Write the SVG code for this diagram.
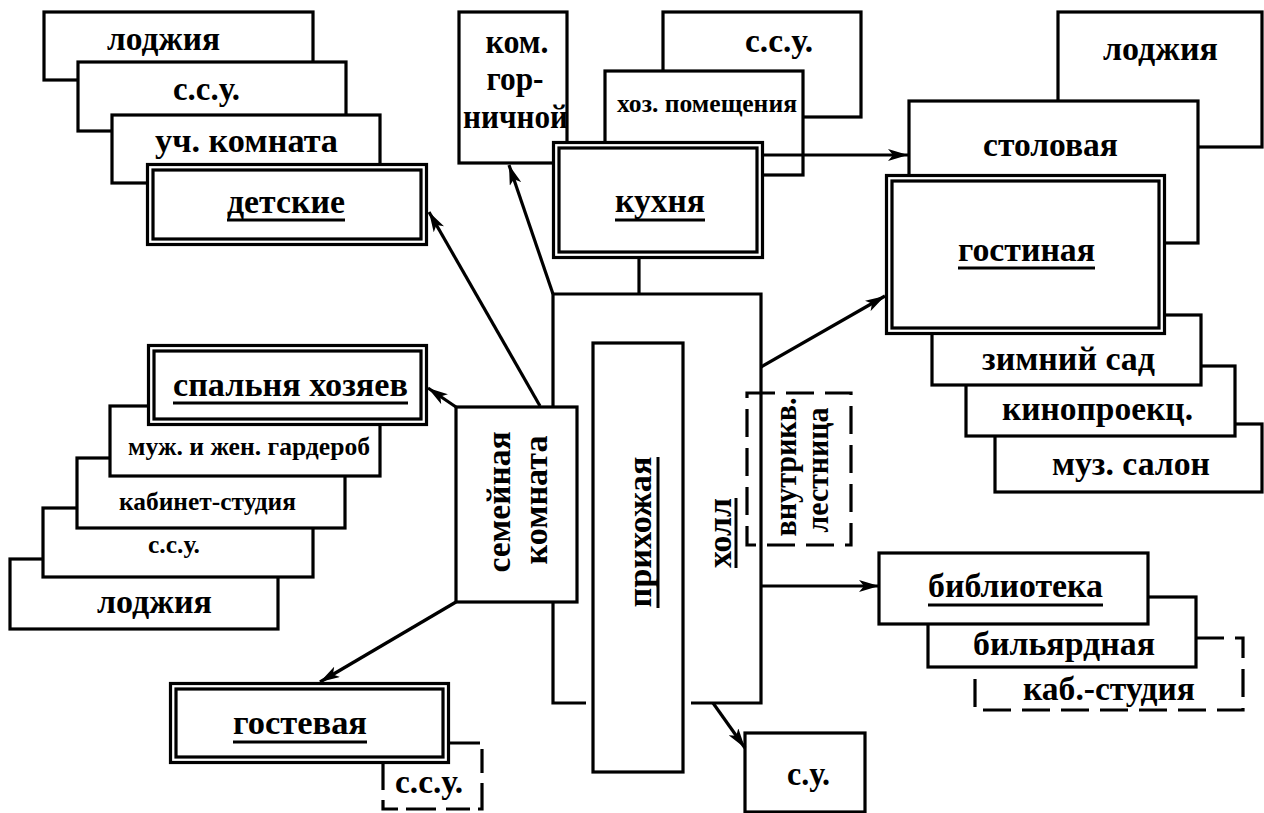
<svg xmlns="http://www.w3.org/2000/svg" width="1264" height="813" viewBox="0 0 1264 813">
<style>
.b{fill:#fff;stroke:#000;stroke-width:3.2}
.f{fill:#fff;stroke:none}
.dl{fill:none;stroke:#000;stroke-width:3.2;stroke-dasharray:28 11}
.u{stroke:#000;stroke-width:3}
.c{fill:none;stroke:#000;stroke-width:3.2}
text{font-family:"Liberation Serif","DejaVu Serif","Times New Roman",serif;font-weight:bold;font-size:34px;fill:#000;text-anchor:middle}
.s{font-size:25px}
</style>
<defs>
<marker id="ah" viewBox="0 0 20 12" refX="20" refY="6" markerWidth="20" markerHeight="12" markerUnits="userSpaceOnUse" orient="auto">
<path d="M0,0 L20,6 L0,12 L5,6 z" fill="#000"/>
</marker>
</defs>
<rect width="1264" height="813" fill="#fff"/>

<!-- top-left group -->
<g id="n-lodzhia-1"><rect class="b" x="44" y="12" width="269" height="68"/><text x="163.5" y="50" textLength="113" lengthAdjust="spacingAndGlyphs">лоджия</text></g>
<g id="n-ssu-1"><rect class="b" x="78" y="62" width="268" height="69"/><text x="206.5" y="100" textLength="67" lengthAdjust="spacingAndGlyphs">с.с.у.</text></g>
<g id="n-uch"><rect class="b" x="112" y="115" width="268" height="68"/><text x="246.5" y="152" textLength="183" lengthAdjust="spacingAndGlyphs">уч. комната</text></g>
<g id="n-detskie"><rect class="b" x="147.5" y="164.5" width="279" height="80"/><rect class="b" x="153" y="170" width="268" height="69"/><text x="286" y="213" textLength="118" lengthAdjust="spacingAndGlyphs">детские</text><line class="u" x1="227" y1="220" x2="345" y2="220"/></g>

<!-- top middle -->
<g id="n-gornichnoi"><rect class="b" x="459" y="12" width="108" height="151"/><text x="517" y="53" textLength="63" lengthAdjust="spacingAndGlyphs">ком.</text><text x="515" y="90" textLength="57" lengthAdjust="spacingAndGlyphs">гор-</text><text x="515.5" y="128" textLength="105" lengthAdjust="spacingAndGlyphs">ничной</text></g>
<g id="n-ssu-top"><rect class="b" x="663" y="12" width="198" height="105"/><text x="779" y="52" textLength="68" lengthAdjust="spacingAndGlyphs">с.с.у.</text></g>
<g id="n-hoz"><rect class="b" x="605" y="71" width="198" height="104"/><text class="s" x="707" y="112" textLength="180" lengthAdjust="spacingAndGlyphs">хоз. помещения</text></g>
<g id="n-kuhnia"><rect class="b" x="553.5" y="142.5" width="209" height="115"/><rect class="b" x="559" y="148" width="198" height="104"/><text x="660" y="212" textLength="90" lengthAdjust="spacingAndGlyphs">кухня</text><line class="u" x1="615" y1="220" x2="705" y2="220"/></g>

<!-- right top -->
<g id="n-lodzhia-r"><rect class="b" x="1058" y="12" width="204" height="135"/><text x="1160.5" y="60" textLength="115" lengthAdjust="spacingAndGlyphs">лоджия</text></g>
<g id="n-stolovaya"><rect class="b" x="909" y="101" width="289" height="142"/><text x="1050.5" y="156" textLength="135" lengthAdjust="spacingAndGlyphs">столовая</text></g>
<g id="n-muz"><rect class="b" x="995" y="424" width="267" height="68"/><text x="1131" y="475" textLength="158" lengthAdjust="spacingAndGlyphs">муз. салон</text></g>
<g id="n-kino"><rect class="b" x="966" y="366" width="269" height="70"/><text x="1097.5" y="420" textLength="191" lengthAdjust="spacingAndGlyphs">кинопроекц.</text></g>
<g id="n-zimniy"><rect class="b" x="932" y="315" width="269" height="70"/><text x="1068.5" y="370" textLength="173" lengthAdjust="spacingAndGlyphs">зимний сад</text></g>
<g id="n-gostinaya"><rect class="b" x="886.5" y="175.5" width="278" height="158"/><rect class="b" x="892" y="181" width="267" height="147"/><text x="1026.5" y="261" textLength="137" lengthAdjust="spacingAndGlyphs">гостиная</text><line class="u" x1="958" y1="268" x2="1095" y2="268"/></g>

<!-- right bottom -->
<g id="n-kab-studia"><rect class="f" x="975" y="638" width="268" height="72"/><path class="dl" d="M1196 638 H1243 V710 H975 V667"/><text x="1109" y="700" textLength="172" lengthAdjust="spacingAndGlyphs">каб.-студия</text></g>
<g id="n-bilyard"><rect class="b" x="928" y="597" width="268" height="70"/><text x="1064" y="655" textLength="182" lengthAdjust="spacingAndGlyphs">бильярдная</text></g>
<g id="n-biblioteka"><rect class="b" x="879" y="553" width="269" height="71"/><text x="1015.5" y="597" textLength="175" lengthAdjust="spacingAndGlyphs">библиотека</text><line class="u" x1="928" y1="605" x2="1103" y2="605"/></g>

<!-- left middle -->
<g id="n-lodzhia-l"><rect class="b" x="10" y="559" width="268" height="70"/><text x="154.5" y="613" textLength="115" lengthAdjust="spacingAndGlyphs">лоджия</text></g>
<g id="n-ssu-l"><rect class="b" x="43" y="508" width="270" height="69"/><text class="s" x="174" y="553" textLength="52" lengthAdjust="spacingAndGlyphs">с.с.у.</text></g>
<g id="n-kabinet"><rect class="b" x="77" y="458" width="268" height="70"/><text class="s" x="207.5" y="510" textLength="177" lengthAdjust="spacingAndGlyphs">кабинет-студия</text></g>
<g id="n-garderob"><rect class="b" x="110" y="406" width="270" height="70"/><text class="s" x="249" y="455" textLength="242" lengthAdjust="spacingAndGlyphs">муж. и жен. гардероб</text></g>
<g id="n-spalnya"><rect class="b" x="148.5" y="345.5" width="278" height="79"/><rect class="b" x="154" y="351" width="267" height="68"/><text x="290.5" y="396" textLength="235" lengthAdjust="spacingAndGlyphs">спальня хозяев</text><line class="u" x1="173" y1="403" x2="408" y2="403"/></g>

<!-- bottom left -->
<g id="n-ssu-gost"><rect class="f" x="383" y="743" width="99" height="66"/><path class="dl" d="M450 743 H482 V809 H383 V764" style="stroke-dasharray:30 8 24 10"/><text x="429" y="793" textLength="68" lengthAdjust="spacingAndGlyphs">с.с.у.</text></g>
<g id="n-gostevaya"><rect class="b" x="170.5" y="683.5" width="278" height="79"/><rect class="b" x="176" y="689" width="267" height="68"/><text x="300" y="734" textLength="134" lengthAdjust="spacingAndGlyphs">гостевая</text><line class="u" x1="233" y1="742" x2="367" y2="742"/></g>

<!-- center -->
<g id="n-holl"><path class="f" d="M553 294 H761 V703 H553 Z"/><path class="c" d="M586 703 H553 V294 H761 V703 H691"/><text transform="translate(731,533) rotate(-90)" textLength="70" lengthAdjust="spacingAndGlyphs">холл</text><line class="u" x1="736" y1="498" x2="736" y2="568"/></g>
<g id="n-lestnica"><rect class="dl" x="747" y="393" width="104" height="152"/><text transform="translate(796,467) rotate(-90)" style="font-size:31px" textLength="139" lengthAdjust="spacingAndGlyphs">внутрикв.</text><text transform="translate(828,470) rotate(-90)" style="font-size:31px" textLength="125" lengthAdjust="spacingAndGlyphs">лестница</text></g>
<g id="n-prihozhaya"><rect class="b" x="593" y="343" width="90" height="429"/><text transform="translate(651,532) rotate(-90)" textLength="151" lengthAdjust="spacingAndGlyphs">прихожая</text><line class="u" x1="658" y1="457" x2="658" y2="608"/></g>
<g id="n-semeinaya"><rect class="b" x="456" y="407" width="121" height="195"/><text transform="translate(510,502) rotate(-90)" textLength="141" lengthAdjust="spacingAndGlyphs">семейная</text><text transform="translate(547,500) rotate(-90)" textLength="129" lengthAdjust="spacingAndGlyphs">комната</text></g>
<g id="n-su"><rect class="b" x="745" y="733" width="120" height="79"/><text x="808.5" y="785" textLength="43" lengthAdjust="spacingAndGlyphs">с.у.</text></g>

<!-- connectors -->
<g id="connectors">
<path class="c" d="M764 155 H908" marker-end="url(#ah)"/>
<path class="c" d="M553 294 L509 165" marker-end="url(#ah)"/>
<path class="c" d="M540 406 L429 212" marker-end="url(#ah)"/>
<path class="c" d="M456 407 L428 388" marker-end="url(#ah)"/>
<path class="c" d="M456 602 L320 682" marker-end="url(#ah)"/>
<path class="c" d="M761 367 L885 296" marker-end="url(#ah)"/>
<path class="c" d="M761 586 H879" marker-end="url(#ah)"/>
<path class="c" d="M713 703 L745 748" marker-end="url(#ah)"/>
<path class="c" d="M639 259 V294"/>
</g>
</svg>
